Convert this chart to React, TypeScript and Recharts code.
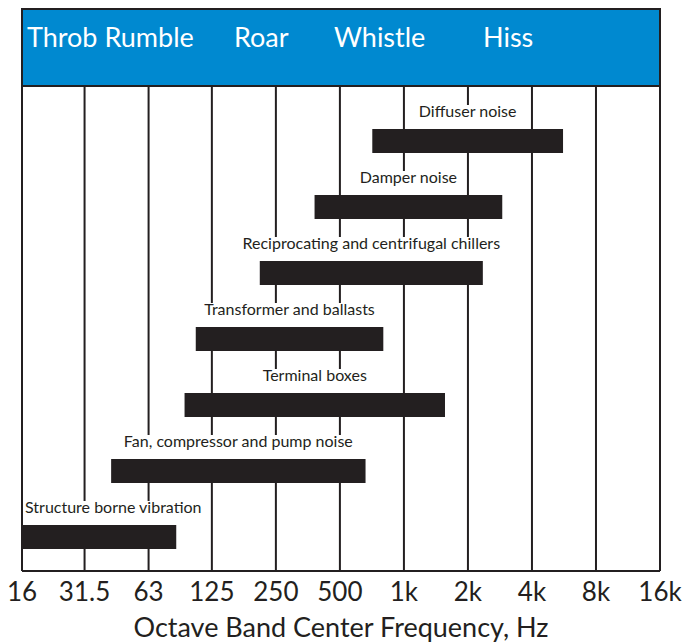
import { BarChart, Bar, XAxis, YAxis, CartesianGrid, LabelList, Customized } from "recharts";

// noise sources, top to bottom
const sources = [
  "Diffuser noise",
  "Damper noise",
  "Reciprocating and centrifugal chillers",
  "Transformer and ballasts",
  "Terminal boxes",
  "Fan, compressor and pump noise",
  "Structure borne vibration",
];
// frequency range of each source, Hz
const lowHz = [710, 380, 210, 105, 93, 42, 16];
const highHz = [5600, 2900, 2350, 800, 1560, 660, 85];

const freqTicks = [16, 31.5, 63, 125, 250, 500, 1000, 2000, 4000, 8000, 16000];
const tickLabels = ["16", "31.5", "63", "125", "250", "500", "1k", "2k", "4k", "8k", "16k"];

const soundWords = ["Throb Rumble", "Roar", "Whistle", "Hiss"];

const data = sources.map((name, i) => ({ name, range: [lowHz[i], highHz[i]] }));

const INK = "#231f20";
const BLUE = "#0089d0";
const FONT = "Lato, 'Open Sans', sans-serif";
const W = 683;
const H = 644;
const M = { top: 86, right: 23, bottom: 11, left: 22 };
const LABEL_SIZE = 16;

let ctx: CanvasRenderingContext2D | null = null;
function textWidth(s: string, size: number) {
  if (!ctx) ctx = document.createElement("canvas").getContext("2d");
  if (!ctx) return s.length * size * 0.5;
  ctx.font = `${size}px Lato`;
  return ctx.measureText(s).width;
}

function BarLabel(props: any) {
  const { x, y, width, value } = props;
  const tw = textWidth(String(value), LABEL_SIZE);
  let cx = x + width / 2;
  let anchor: "middle" | "start" = "middle";
  let left = cx - tw / 2;
  if (left < M.left + 3) {
    left = M.left + 3;
    cx = left;
    anchor = "start";
  }
  return (
    <g>
      <rect x={left - 2} y={y - 24} width={tw + 4} height={24} fill="#fff" />
      <text x={cx} y={y - 12} textAnchor={anchor} fontSize={LABEL_SIZE} fill={INK} fontFamily={FONT}>
        {value}
      </text>
    </g>
  );
}

// header band words, x in svg px
const wordX = [27, 234, 334, 483];

function Header() {
  const plotW = W - M.left - M.right;
  return (
    <g>
      <rect x={M.left} y={9} width={plotW} height={M.top - 9} fill={BLUE} stroke={INK} strokeWidth={2} />
      {soundWords.map((w, i) => (
        <text key={w} x={wordX[i]} y={47} fill="#fff" fontSize={27} fontFamily={FONT}>
          {w}
        </text>
      ))}
    </g>
  );
}

export default function App() {
  return (
    <div style={{ position: "absolute", left: 0, top: 0, width: W, height: H, fontFamily: FONT }}>
      <BarChart width={W} height={H} data={data} layout="vertical" margin={M}>
        <CartesianGrid horizontal={false} stroke={INK} strokeWidth={2} />
        <XAxis
          type="number"
          scale="log"
          domain={[16, 16000]}
          ticks={freqTicks}
          interval={0}
          allowDataOverflow
          height={62}
          tickLine={false}
          tickMargin={6}
          axisLine={{ stroke: INK, strokeWidth: 2 }}
          tick={{ fill: INK, fontSize: 26, fontFamily: FONT }}
          tickFormatter={(v: number) => tickLabels[freqTicks.indexOf(v)] ?? String(v)}
          label={{
            value: "Octave Band Center Frequency, Hz",
            position: "insideBottom",
            offset: -4,
            fill: INK,
            fontSize: 27,
            fontFamily: FONT,
          }}
        />
        <YAxis type="category" dataKey="name" hide padding={{ top: 22, bottom: 1 }} />
        <Bar dataKey="range" fill={INK} barSize={24} isAnimationActive={false}>
          <LabelList dataKey="name" content={BarLabel} />
        </Bar>
        <Customized component={<Header />} />
      </BarChart>
    </div>
  );
}
